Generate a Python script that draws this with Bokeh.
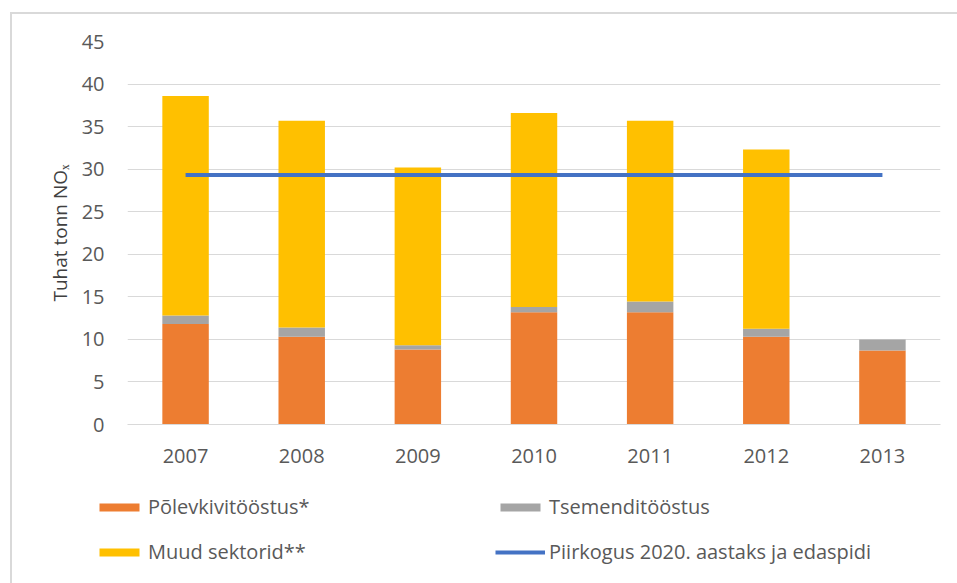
from bokeh.plotting import figure
from bokeh.layouts import column
from bokeh.models import ColumnDataSource, Legend, LegendItem, FixedTicker
from bokeh.embed import file_html
from bokeh.resources import INLINE

years = ["2007", "2008", "2009", "2010", "2011", "2012", "2013"]
polevkivi = [11.8, 10.3, 8.8, 13.2, 13.2, 10.3, 8.7]
tsement = [1.0, 1.1, 0.5, 0.6, 1.25, 0.95, 1.3]
muud = [25.8, 24.3, 20.9, 22.8, 21.25, 21.05, 0.0]
piirkogus = [29.3] * len(years)

series_names = ["Põlevkivitööstus*", "Tsemenditööstus", "Muud sektorid**"]
line_name = "Piirkogus 2020. aastaks ja edaspidi"
colors = ["#ED7D31", "#A5A5A5", "#FFC000"]
line_color = "#4472C4"
y_ticks = [0, 5, 10, 15, 20, 25, 30, 35, 40, 45]

FONT = "Open Sans"
TXT = "#595959"

src = ColumnDataSource(dict(years=years, p=polevkivi, t=tsement, m=muud, lim=piirkogus))

p = figure(x_range=years, y_range=(0, 45), width=957, height=480,
           output_backend="svg", toolbar_location=None,
           min_border_left=127, min_border_right=17, min_border_top=41, min_border_bottom=56)
p.outline_line_color = None
p.border_fill_color = None
p.background_fill_color = "white"

r_bars = p.vbar_stack(["p", "t", "m"], x="years", width=0.4, color=colors, source=src, line_width=0)
r_line = p.line(x="years", y="lim", source=src, line_width=4, color=line_color)

p.yaxis.ticker = FixedTicker(ticks=y_ticks)
p.yaxis.axis_line_color = None
p.yaxis.major_tick_line_color = None
p.yaxis.minor_tick_line_color = None
p.yaxis.major_label_text_font = FONT
p.yaxis.major_label_text_font_size = "20px"
p.yaxis.major_label_text_color = TXT
p.yaxis.major_label_standoff = 17
p.yaxis.axis_label = "Tuhat tonn NOₓ"
p.yaxis.axis_label_text_font = FONT
p.yaxis.axis_label_text_font_style = "normal"
p.yaxis.axis_label_text_font_size = "19px"
p.yaxis.axis_label_text_color = "#404040"
p.yaxis.axis_label_standoff = 6

p.xaxis.axis_line_color = "#d9d9d9"
p.xaxis.major_tick_line_color = None
p.xaxis.minor_tick_line_color = None
p.xaxis.major_label_text_font = FONT
p.xaxis.major_label_text_font_size = "20px"
p.xaxis.major_label_text_color = TXT
p.xaxis.major_label_standoff = 18

p.xgrid.grid_line_color = None
p.ygrid.grid_line_color = "#d9d9d9"
p.ygrid.grid_line_width = 1

# Legend panel underneath the chart (proxy glyphs sit outside the visible range)
lg = figure(width=957, height=103, output_backend="svg", toolbar_location=None,
            x_range=(0, 1), y_range=(0, 1),
            min_border_left=0, min_border_right=0, min_border_top=0, min_border_bottom=0)
if "frame_align" in lg.properties():
    lg.frame_align = False
lg.axis.visible = False
lg.grid.visible = False
lg.outline_line_color = None
lg.border_fill_color = None
lg.background_fill_color = None
proxies = [lg.vbar(x=[-5], top=[-5], bottom=[-6], width=0.4, color=c, line_width=0) for c in colors]
proxy_line = lg.line(x=[-6, -5], y=[-5, -5], line_width=4, color=line_color)

items = [
    LegendItem(label=series_names[0], renderers=[proxies[0]]),
    LegendItem(label=series_names[1], renderers=[proxies[1]]),
    LegendItem(label=series_names[2], renderers=[proxies[2]]),
    LegendItem(label=line_name, renderers=[proxy_line]),
]
legend = Legend(items=items, orientation="horizontal", ncols=2,
                location=(94, 18), padding=0, margin=0,
                border_line_color=None, background_fill_alpha=0,
                glyph_width=50, glyph_height=10, label_height=26,
                label_width=329, label_standoff=4, spacing=18,
                label_text_font=FONT, label_text_font_size="20px",
                label_text_color=TXT)
lg.add_layout(legend, "center")

frame_css = ("linear-gradient(#d9d9d9, #d9d9d9) 10px 12px / 2px calc(100% - 12px) no-repeat, "
             "linear-gradient(#d9d9d9, #d9d9d9) 10px 12px / calc(100% - 10px) 2px no-repeat, white")
layout = column(p, lg, spacing=0, styles={"background": frame_css})
open("out.html", "w").write(file_html(layout, INLINE))
